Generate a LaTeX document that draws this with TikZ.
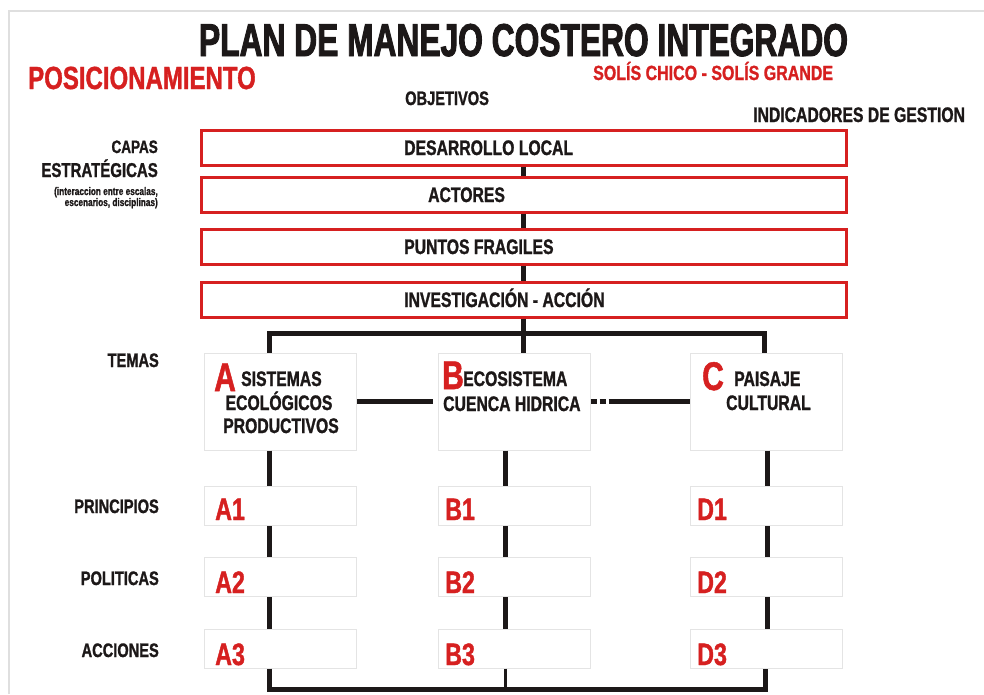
\documentclass[tikz,border=0pt]{standalone}
\usepackage{fontspec}
\setmainfont{Liberation Sans}[FakeStretch=0.75,FakeBold=1.2]
\newfontfamily\titlefont{Liberation Sans}[FakeStretch=0.69,FakeBold=2]
\newfontfamily\redfont{Liberation Sans}[FakeStretch=0.78,FakeBold=1.2]
\newcommand\fsz[1]{\fontsize{#1}{#1}\selectfont}
\definecolor{rred}{RGB}{214,32,32}
\definecolor{ink}{RGB}{28,24,24}
\definecolor{gbox}{RGB}{228,228,228}
\tikzset{
  capa/.style={draw=rred, line width=3pt, minimum width=645pt, minimum height=35pt, inner sep=0pt},
  tema/.style={draw=gbox, line width=1pt, fill=white, minimum width=152pt, minimum height=97pt, inner sep=0pt},
  fila/.style={draw=gbox, line width=1pt, fill=white, minimum width=152pt, minimum height=39pt, inner sep=0pt},
  conn/.style={draw=ink, line width=5pt},
  thinconn/.style={draw=ink, line width=3pt},
  lbl/.style={inner sep=0pt, text=ink, font=\bfseries\fsz{19.5}},
  lblr/.style={inner sep=0pt, text=rred, font=\bfseries\fsz{31}},
  big/.style={inner sep=0pt, text=rred, font=\bfseries\fsz{40}, text depth=0pt, text height=29pt},
  themetxt/.style={inner sep=0pt, text=ink, font=\bfseries\fsz{21}, text depth=0pt, text height=15pt},
}
\begin{document}
\begin{tikzpicture}[x=1pt,y=-1pt]
\useasboundingbox (0,0) rectangle (984,694);
% frame
\draw[gray!25, line width=2pt] (9,694) -- (9,11) -- (984,11);
% headings
\node[inner sep=0pt, text=ink, anchor=base, font=\titlefont\bfseries\fsz{46}] (title) at (523.5,56) {PLAN DE MANEJO COSTERO INTEGRADO};
\node[inner sep=0pt, text=rred, anchor=base west, font=\bfseries\fsz{32}] (pos) at (28,89) {POSICIONAMIENTO};
\node[inner sep=0pt, text=rred, anchor=base west, font=\redfont\bfseries\fsz{20.5}] (sol) at (593,80) {SOLÍS CHICO - SOLÍS GRANDE};
\node[lbl, anchor=base west] (obj) at (405,105) {OBJETIVOS};
\node[lbl, anchor=base west, font=\bfseries\fsz{21}] (ind) at (753,122) {INDICADORES DE GESTION};
% left labels
\node[lbl, anchor=base east, font=\bfseries\fsz{18}] (capas) at (158,153) {CAPAS};
\node[lbl, anchor=base east, font=\bfseries\fsz{20}] (estr) at (158,177) {ESTRATÉGICAS};
\node[lbl, anchor=base east, font=\bfseries\fsz{11}] (int1) at (158,195) {(interaccion entre escalas,};
\node[lbl, anchor=base east, font=\bfseries\fsz{11}] (int2) at (158,206) {escenarios, disciplinas)};
\node[lbl, anchor=base east] (temas) at (159,367) {TEMAS};
\node[lbl, anchor=base east] (princ) at (159,513) {PRINCIPIOS};
\node[lbl, anchor=base east] (polit) at (159,585) {POLITICAS};
\node[lbl, anchor=base east] (acc) at (159,657) {ACCIONES};
% capas
\node[capa] (c1) at (523.5,147.5) {};
\node[capa] (c2) at (523.5,194.5) {};
\node[capa] (c3) at (523.5,246.5) {};
\node[capa] (c4) at (523.5,299.5) {};
\node[lbl, anchor=base west, font=\bfseries\fsz{21}] (t1) at (404,155) {DESARROLLO LOCAL};
\node[lbl, anchor=base west, font=\bfseries\fsz{21}] (t2) at (428,202) {ACTORES};
\node[lbl, anchor=base west, font=\bfseries\fsz{21}] (t3) at (404,254) {PUNTOS FRAGILES};
\node[lbl, anchor=base west, font=\bfseries\fsz{21}] (t4) at (404,307) {INVESTIGACIÓN - ACCIÓN};
\draw[conn] (c1) -- (c2);
\draw[conn] (c2) -- (c3);
\draw[conn] (c3) -- (c4);
% temas
\node[tema] (tA) at (280.5,401.5) {};
\node[tema] (tB) at (514,401.5) {};
\node[tema] (tC) at (766.5,401.5) {};
\coordinate (jn) at (523.5,333);
\coordinate (xA) at (269.5,0);
\coordinate (xB) at (505,0);
\coordinate (xC) at (764,0);
\coordinate (xD) at (767.5,0);
\draw[conn] (c4.south) -- (c4.south |- tB.north);
\draw[conn] (tA.north -| xA) |- (jn) -| (tC.north -| xC);
\draw[conn] (tA) -- ([xshift=-5pt]tB.west);
\draw[conn, dash pattern=on 6pt off 3pt on 6pt off 3pt on 200pt] (tB) -- (tC);
\node[big, anchor=base west] (lA) at (214,391) {A};
\node[themetxt, anchor=base west] (sA1) at (241,386) {SISTEMAS};
\node[themetxt, anchor=base] (sA2) at (279,410) {ECOLÓGICOS};
\node[themetxt, anchor=base] (sA3) at (281,433) {PRODUCTIVOS};
\node[big, anchor=base west] (lB) at (442,389) {B};
\node[themetxt, anchor=base west] (sB1) at (463,386) {ECOSISTEMA};
\node[themetxt, anchor=base west] (sB2) at (443,411) {CUENCA HIDRICA};
\node[big, anchor=base west] (lC) at (702,390) {C};
\node[themetxt, anchor=base west] (sC1) at (734,386) {PAISAJE};
\node[themetxt, anchor=base west] (sC2) at (726,410) {CULTURAL};
% filas
\foreach \n/\cx in {A/280.5, B/514, D/766.5}{
  \node[fila] (\n1) at (\cx,506) {};
  \node[fila] (\n2) at (\cx,577) {};
  \node[fila] (\n3) at (\cx,648.5) {};
}
\node[lblr, anchor=base west] (lA1) at (215,520) {A1};
\node[lblr, anchor=base west] (lA2) at (215,593) {A2};
\node[lblr, anchor=base west] (lA3) at (215,665) {A3};
\node[lblr, anchor=base west] (lB1) at (445,520) {B1};
\node[lblr, anchor=base west] (lB2) at (445,593) {B2};
\node[lblr, anchor=base west] (lB3) at (445,665) {B3};
\node[lblr, anchor=base west] (lD1) at (697,520) {D1};
\node[lblr, anchor=base west] (lD2) at (697,593) {D2};
\node[lblr, anchor=base west] (lD3) at (697,665) {D3};
% verticals
\draw[conn] (tA.south -| xA) -- (A1.north -| xA);
\draw[conn] (A1.south -| xA) -- (A2.north -| xA);
\draw[conn] (A2.south -| xA) -- (A3.north -| xA);
\draw[conn] (tB.south -| xB) -- (B1.north -| xB);
\draw[conn] (B1.south -| xB) -- (B2.north -| xB);
\draw[conn] (B2.south -| xB) -- (B3.north -| xB);
\draw[conn] (tC.south -| xD) -- (D1.north -| xD);
\draw[conn] (D1.south -| xD) -- (D2.north -| xD);
\draw[conn] (D2.south -| xD) -- (D3.north -| xD);
% bottom
\coordinate (bL) at (269.5,689);
\coordinate (bR) at (765,689);
\draw[conn] (A3.south -| bL) -- (bL) -- (bR) -- (D3.south -| bR);
\draw[thinconn] (B3.south -| xB) -- (xB |- bL);
\end{tikzpicture}
\end{document}
